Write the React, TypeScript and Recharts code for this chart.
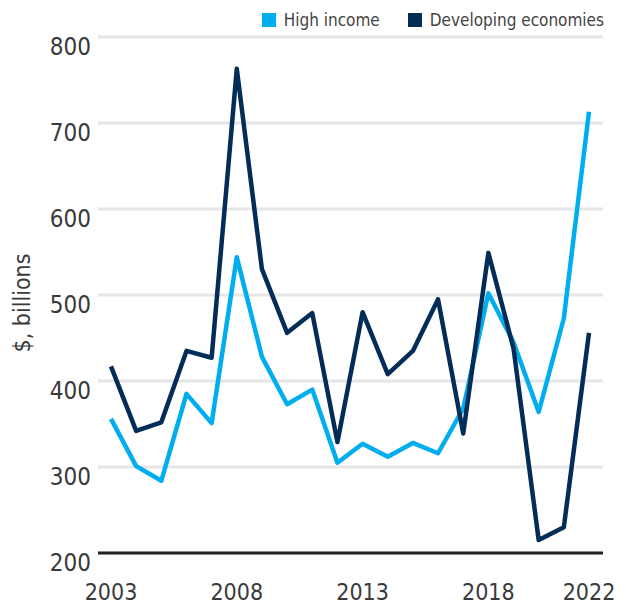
import React from 'react';
import { LineChart, Line, XAxis, YAxis, CartesianGrid, Legend } from 'recharts';

const years = [2003, 2004, 2005, 2006, 2007, 2008, 2009, 2010, 2011, 2012, 2013, 2014, 2015, 2016, 2017, 2018, 2019, 2020, 2021, 2022];
const highIncome = [356, 301, 284, 385, 351, 544, 428, 373, 390, 305, 327, 312, 328, 316, 368, 502, 445, 364, 473, 713];
const developing = [417, 342, 352, 435, 427, 763, 530, 456, 479, 329, 480, 408, 435, 495, 339, 549, 438, 215, 230, 456];
const xTicks = [2003, 2008, 2013, 2018, 2022];
const yTicks = [200, 300, 400, 500, 600, 700, 800];
const seriesNames = { high: 'High income', dev: 'Developing economies' };

const data = years.map((y, i) => ({ year: y, high: highIncome[i], dev: developing[i] }));

const FONT = "'Liberation Sans Narrow', 'DejaVu Sans Condensed', 'Roboto Condensed', sans-serif";
const LIGHT = '#00AEEF';
const DARK = '#032D56';
const TEXT = '#3a3a3a';

const YTick = (props: any) => {
  const { x, y, payload } = props;
  return (
    <text x={x - 7} y={y + 18} textAnchor="end" fontFamily={FONT} fontSize={24} fill={TEXT}>
      {payload.value}
    </text>
  );
};

const XTick = (props: any) => {
  const { x, y, payload } = props;
  return (
    <text x={x} y={y + 47} textAnchor="middle" fontFamily={FONT} fontSize={23} fill={TEXT}>
      {payload.value}
    </text>
  );
};

const renderLegend = () => {
  const items = [
    { key: 'high', color: LIGHT },
    { key: 'dev', color: DARK },
  ];
  return (
    <div style={{ display: 'flex', alignItems: 'center', height: 20, fontFamily: FONT }}>
      {items.map((it, i) => (
        <div key={it.key} style={{ display: 'flex', alignItems: 'center', marginLeft: i === 0 ? 0 : 28 }}>
          <div style={{ width: 14, height: 14, background: it.color, marginRight: 8 }} />
          <span style={{ fontSize: 17, lineHeight: '20px', color: '#444', whiteSpace: 'nowrap' }}>
            {(seriesNames as any)[it.key]}
          </span>
        </div>
      ))}
    </div>
  );
};

const YLabel = (props: any) => {
  const vb = props.viewBox || { x: 0, y: 0, width: 0, height: 0 };
  const cx = vb.x + 30;
  const cy = vb.y + vb.height / 2 + 8;
  return (
    <text
      x={cx}
      y={cy}
      transform={`rotate(-90, ${cx}, ${cy})`}
      textAnchor="middle"
      fontFamily={FONT}
      fontSize={23}
      fill={TEXT}
    >
      $, billions
    </text>
  );
};

export default function App() {
  return (
    <div style={{ position: 'absolute', left: 0, top: 0, background: '#fff' }}>
      <LineChart width={626} height={606} data={data} margin={{ top: 37, right: 23, bottom: 0, left: 0 }}>
        <CartesianGrid vertical={false} stroke="#e6e6e6" strokeWidth={3} />
        <XAxis
          dataKey="year"
          type="number"
          domain={[2003, 2022]}
          ticks={xTicks}
          padding={{ left: 13, right: 14 }}
          height={53}
          tickLine={false}
          tickSize={0}
          tickMargin={0}
          axisLine={{ stroke: '#231f20', strokeWidth: 3 }}
          tick={<XTick />}
          interval={0}
        />
        <YAxis
          domain={[200, 800]}
          ticks={yTicks}
          width={98}
          axisLine={false}
          tickLine={false}
          tickSize={0}
          tickMargin={0}
          tick={<YTick />}
          interval={0}
          label={{ content: <YLabel /> }}
        />
        <Legend
          layout="horizontal"
          verticalAlign="middle"
          align="center"
          wrapperStyle={{ top: 10, right: 22, left: 'auto', width: 'auto' }}
          content={renderLegend}
        />
        <Line
          type="linear"
          dataKey="high"
          name={seriesNames.high}
          stroke={LIGHT}
          strokeWidth={4.5}
          strokeLinejoin="round"
          dot={false}
          activeDot={false}
          isAnimationActive={false}
        />
        <Line
          type="linear"
          dataKey="dev"
          name={seriesNames.dev}
          stroke={DARK}
          strokeWidth={4.5}
          strokeLinejoin="round"
          dot={false}
          activeDot={false}
          isAnimationActive={false}
        />
      </LineChart>
    </div>
  );
}
